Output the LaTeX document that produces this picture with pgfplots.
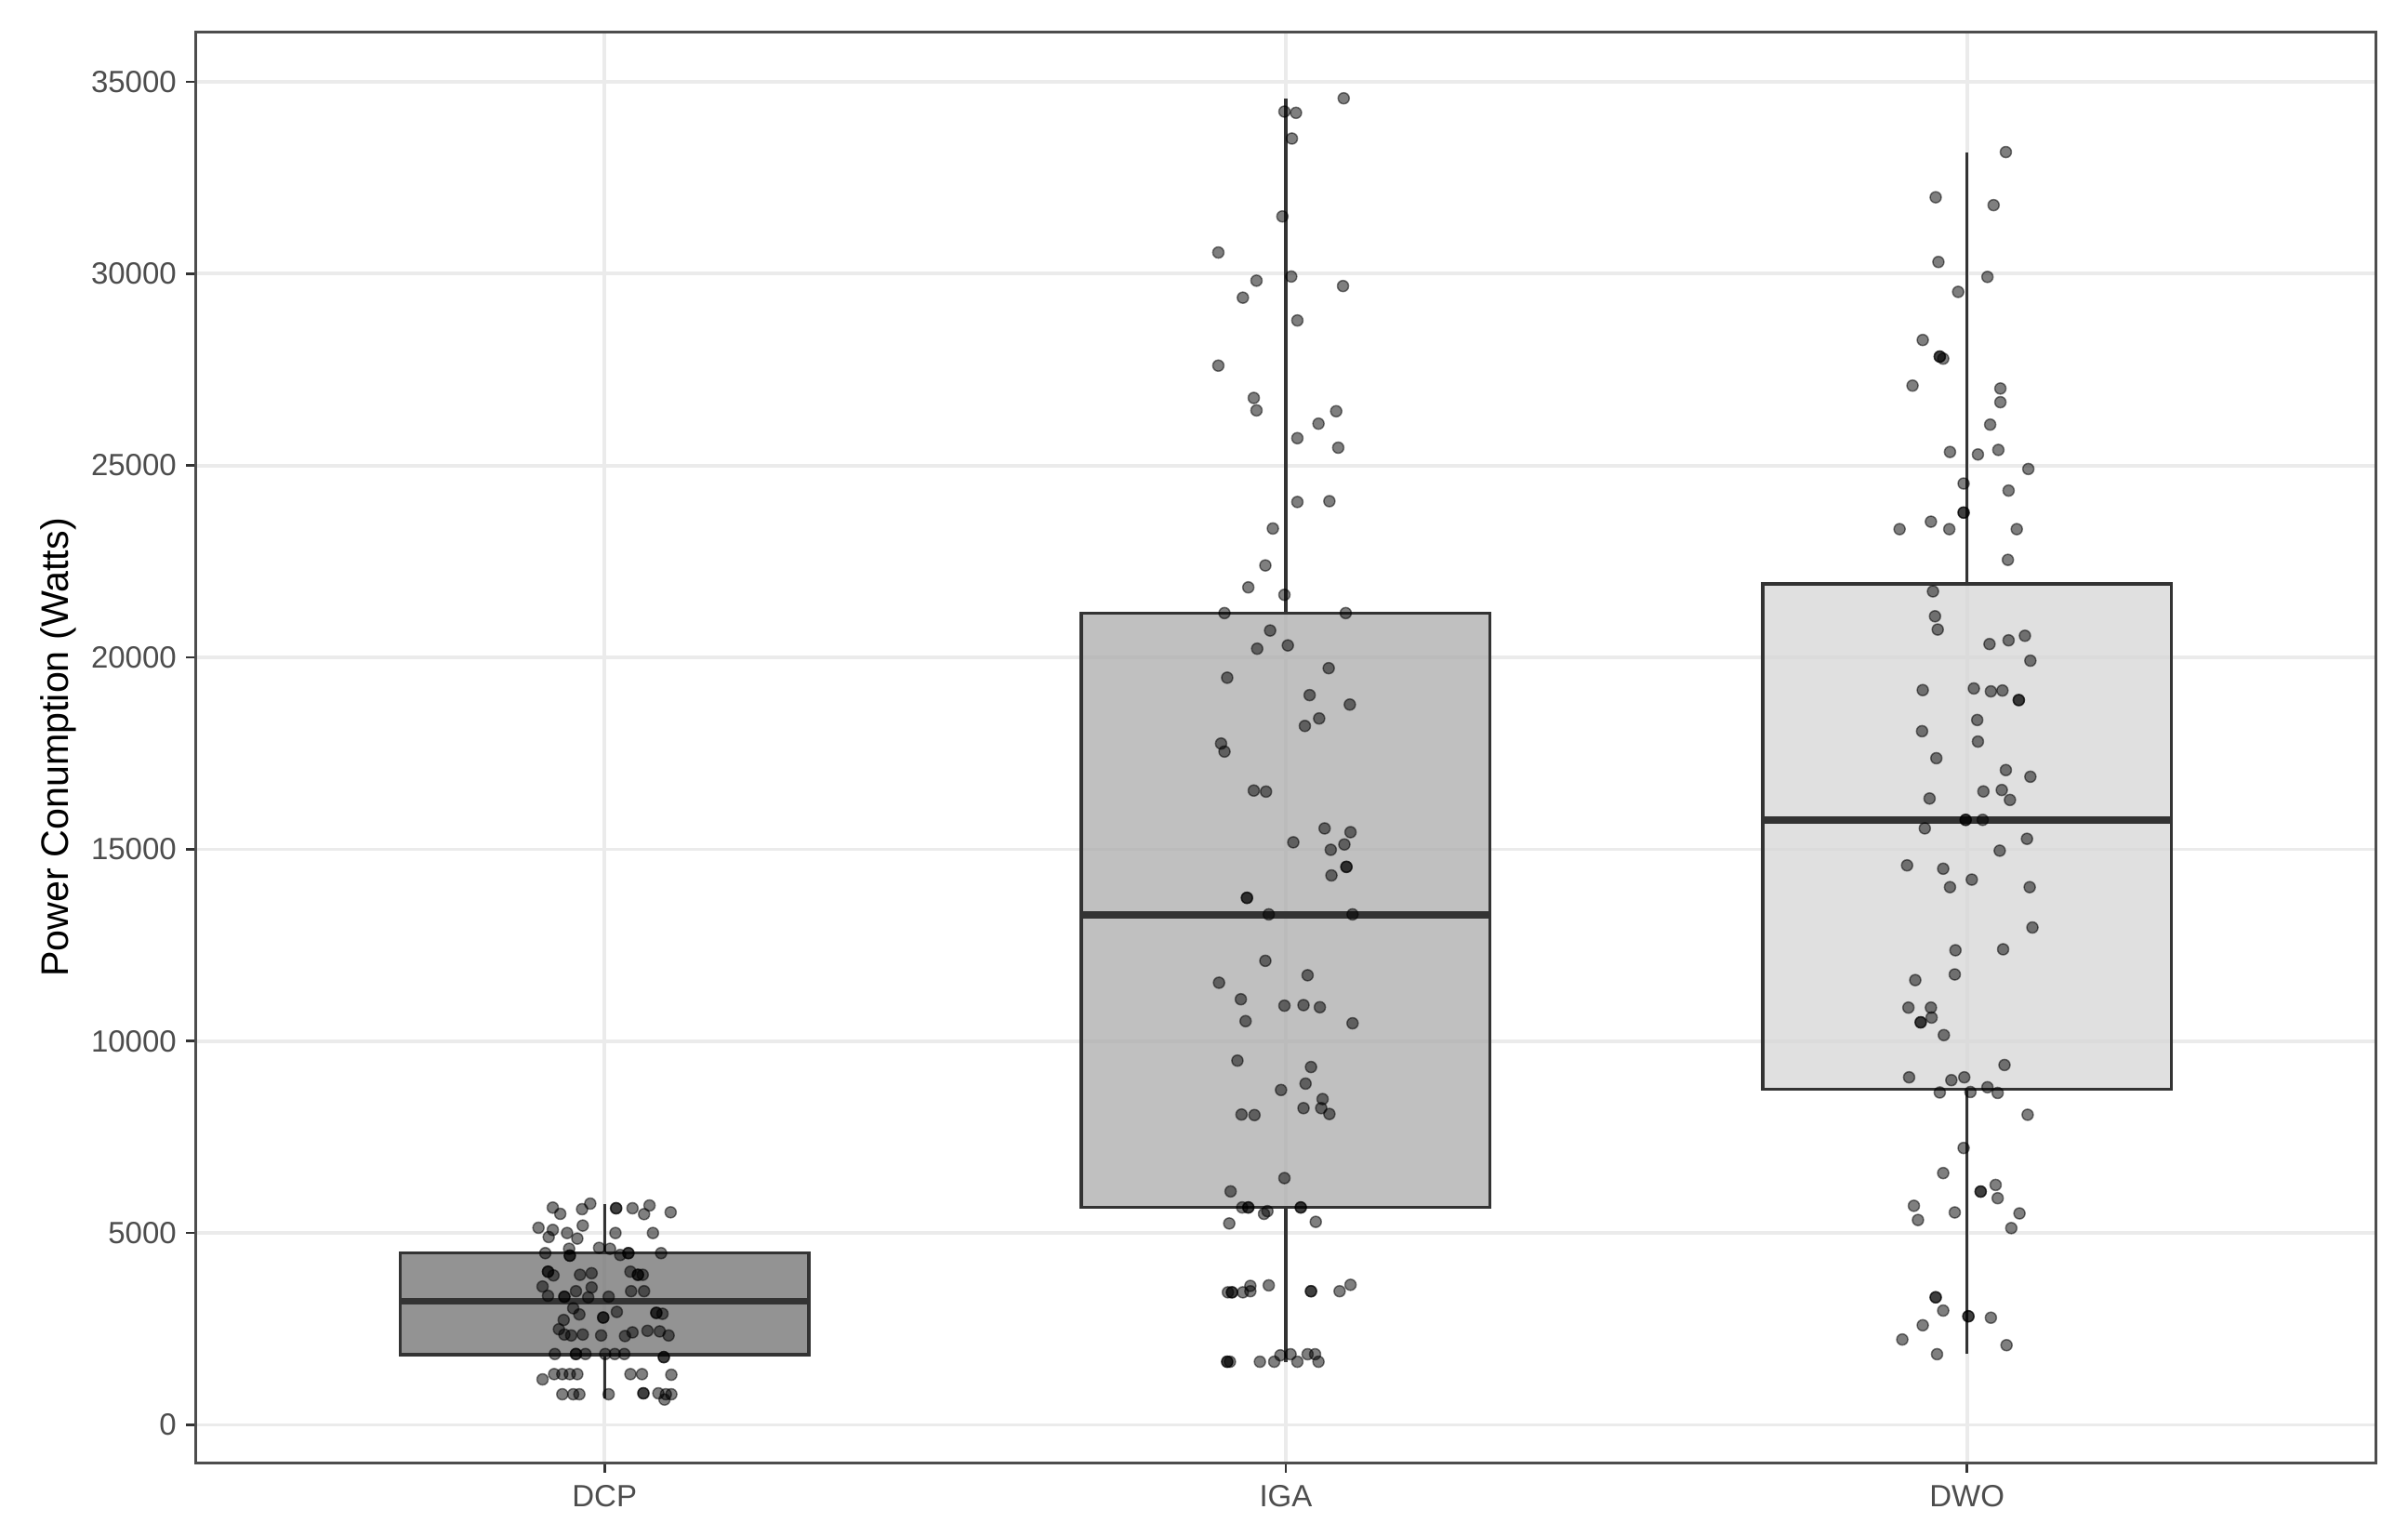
\documentclass[border=0pt]{standalone}
\usepackage{pgfplots}
\pgfplotsset{compat=1.18}
\usepackage{fontspec}
\setmainfont{Liberation Sans}
\definecolor{gridc}{HTML}{EBEBEB}
\definecolor{tickc}{HTML}{4D4D4D}
\definecolor{boxline}{HTML}{333333}
\definecolor{fillA}{HTML}{787878}
\definecolor{fillB}{HTML}{B0B0B0}
\definecolor{fillC}{HTML}{D8D8D8}

\pgfplotstableread{
x y
0.924 5662
0.935 5500
0.967 5621
0.979 5766
1.017 5645
1.017 5645
1.041 5645
1.058 5492
1.066 5718
1.097 5540
0.903 5137
0.924 5081
0.918 4895
0.945 5000
0.968 5194
0.960 4855
1.016 5000
1.071 5000
0.913 4476
0.948 4589
0.949 4411
0.949 4411
0.992 4613
1.008 4589
1.023 4428
1.035 4476
1.035 4476
1.083 4476
0.917 3992
0.917 3992
0.925 3895
0.964 3911
0.981 3952
1.038 3992
1.049 3911
1.049 3911
1.056 3911
0.909 3605
0.917 3363
0.941 3339
0.941 3339
0.958 3484
0.981 3581
0.976 3323
1.006 3339
1.039 3484
1.058 3484
0.954 3040
0.963 2879
0.940 2734
0.998 2798
0.998 2798
1.018 2944
1.076 2919
1.076 2919
1.085 2895
0.933 2492
0.941 2355
0.951 2331
0.968 2355
0.995 2331
1.030 2315
1.041 2411
1.063 2452
1.081 2436
1.094 2331
0.927 1847
0.958 1847
0.958 1847
0.972 1847
1.001 1847
1.015 1847
1.029 1847
1.087 1766
1.087 1766
0.909 1186
0.926 1323
0.938 1323
0.949 1323
0.960 1323
1.038 1323
1.055 1323
1.098 1307
0.938 798
0.954 798
0.963 798
1.006 798
1.057 823
1.057 823
1.079 823
1.090 798
1.098 798
1.088 661
}\dcp

\pgfplotstableread{
x y
2.085 34568
1.998 34222
2.015 34190
2.009 33520
1.995 31490
1.901 30550
2.008 29924
1.957 29816
2.084 29676
1.937 29373
2.017 28779
1.901 27602
1.953 26760
1.957 26436
2.074 26414
2.048 26090
2.017 25712
2.077 25464
2.017 24049
2.064 24070
1.981 23358
1.970 22396
1.945 21824
1.998 21630
1.910 21154
2.088 21154
1.977 20700
1.958 20226
2.003 20312
1.914 19470
2.063 19718
2.035 19016
2.094 18770
2.049 18408
2.028 18213
1.905 17754
1.910 17546
1.953 16530
1.971 16502
2.057 15543
2.095 15445
2.011 15181
2.086 15125
2.066 14986
2.089 14541
2.089 14541
2.067 14318
1.943 13734
1.943 13734
1.975 13303
2.098 13303
1.970 12093
2.032 11717
1.902 11522
1.934 11091
1.998 10924
2.026 10938
2.050 10883
1.941 10521
2.098 10465
1.929 9492
2.037 9325
2.029 8893
1.993 8727
2.054 8490
2.026 8254
2.052 8254
2.064 8101
1.935 8087
1.954 8073
1.998 6431
1.919 6084
1.945 5666
1.945 5666
1.936 5666
2.022 5666
2.022 5666
1.968 5499
1.973 5569
1.917 5249
2.044 5291
1.921 3455
1.921 3455
1.915 3455
1.937 3455
1.948 3622
1.948 3483
1.975 3636
2.037 3483
2.037 3483
2.079 3483
2.095 3650
1.914 1646
1.914 1646
1.918 1646
1.962 1646
1.983 1646
1.992 1813
2.007 1841
2.017 1646
2.032 1841
2.043 1841
2.048 1646
}\iga

\pgfplotstableread{
x y
3.057 33167
2.954 31989
3.039 31784
2.958 30303
3.030 29914
2.987 29524
2.935 28270
2.960 27838
2.960 27838
2.965 27784
2.920 27081
3.049 27006
3.049 26649
3.034 26065
2.975 25352
3.016 25287
3.046 25406
3.090 24909
2.995 24530
3.061 24346
2.995 23773
2.995 23773
2.947 23536
2.901 23341
2.974 23341
3.073 23341
3.060 22541
2.950 21720
2.953 21071
2.957 20725
3.033 20347
3.061 20444
3.085 20563
3.093 19914
2.935 19147
3.010 19190
3.035 19114
3.052 19136
3.076 18887
3.076 18887
3.015 18368
2.934 18076
3.016 17806
2.955 17372
3.057 17063
3.093 16890
3.024 16507
3.051 16544
3.063 16285
2.945 16322
2.998 15766
2.998 15766
3.023 15766
2.938 15544
3.088 15272
3.048 14963
2.912 14580
2.965 14493
3.007 14209
2.975 14012
3.092 14012
3.096 12961
2.983 12368
3.053 12393
2.924 11590
2.982 11738
2.914 10873
2.947 10873
2.932 10490
2.932 10490
2.948 10614
2.966 10157
3.055 9378
2.915 9057
2.977 8983
2.996 9057
3.030 8798
2.960 8662
3.005 8674
3.045 8650
3.089 8081
2.995 7216
2.965 6562
3.020 6080
3.020 6080
3.042 6253
3.045 5907
2.922 5709
2.928 5339
2.982 5536
3.077 5511
3.065 5128
2.954 3325
2.954 3325
2.965 2979
3.002 2830
3.002 2830
3.035 2793
2.935 2596
2.905 2225
3.058 2077
2.956 1842
}\dwo

\begin{document}
\begin{tikzpicture}
\path[use as bounding box] (-56.17pt,-20.9pt) rectangle (634.55pt,419.6pt);
\begin{axis}[
  name=ax,
  at={(0,0)}, anchor=south west,
  scale only axis,
  width=625.3pt, height=410.35pt,
  xmin=0.4, xmax=3.6,
  ymin=-990, ymax=36290,
  xtick={1,2,3},
  xticklabels={DCP,IGA,DWO},
  ytick={0,5000,10000,15000,20000,25000,30000,35000},
  minor tick num=0,
  scaled y ticks=false,
  yticklabel style={/pgf/number format/1000 sep={}, /pgf/number format/assume math mode=true},
  tick pos=left,
  tick align=outside,
  major tick length=2.75pt,
  tick style={draw=boxline, line width=0.7pt},
  axis line style={draw=tickc, line width=0.7pt},
  grid=major,
  major grid style={draw=gridc, line width=1pt},
  ticklabel style={font=\fontsize{8.8}{10}\selectfont, text=tickc},
  yticklabel style={anchor=east, inner sep=0pt, xshift=-2.6pt},
  xticklabel style={anchor=north, inner sep=0pt, yshift=-3.6pt},
  clip=false,
]
% boxes
\addplot[draw=boxline, line width=0.9pt, fill=fillA, fill opacity=0.8, mark=none]
  coordinates {(0.7,1831) (1.3,1831) (1.3,4476) (0.7,4476)} -- cycle;
\addplot[draw=boxline, line width=0.9pt, fill=fillB, fill opacity=0.8, mark=none]
  coordinates {(1.7,5666) (2.3,5666) (2.3,21154) (1.7,21154)} -- cycle;
\addplot[draw=boxline, line width=0.9pt, fill=fillC, fill opacity=0.8, mark=none]
  coordinates {(2.7,8750) (3.3,8750) (3.3,21910) (2.7,21910)} -- cycle;
% whiskers
\addplot[draw=boxline, line width=0.9pt, mark=none] coordinates {(1,4476) (1,5760)};
\addplot[draw=boxline, line width=0.9pt, mark=none] coordinates {(1,680) (1,1831)};
\addplot[draw=boxline, line width=0.9pt, mark=none] coordinates {(2,21154) (2,34568)};
\addplot[draw=boxline, line width=0.9pt, mark=none] coordinates {(2,1646) (2,5666)};
\addplot[draw=boxline, line width=0.9pt, mark=none] coordinates {(3,21910) (3,33167)};
\addplot[draw=boxline, line width=0.9pt, mark=none] coordinates {(3,1842) (3,8750)};
% medians
\addplot[draw=boxline, line width=1.9pt, mark=none] coordinates {(0.7,3218) (1.3,3218)};
\addplot[draw=boxline, line width=1.9pt, mark=none] coordinates {(1.7,13290) (2.3,13290)};
\addplot[draw=boxline, line width=1.9pt, mark=none] coordinates {(2.7,15760) (3.3,15760)};
% jittered points
\addplot[only marks, mark=*, mark size=1.6pt,
   mark options={fill=black, draw=black, fill opacity=0.5, draw opacity=0.5, line width=0.4pt}]
   table[x=x, y=y] {\dcp};
\addplot[only marks, mark=*, mark size=1.6pt,
   mark options={fill=black, draw=black, fill opacity=0.5, draw opacity=0.5, line width=0.4pt}]
   table[x=x, y=y] {\iga};
\addplot[only marks, mark=*, mark size=1.6pt,
   mark options={fill=black, draw=black, fill opacity=0.5, draw opacity=0.5, line width=0.4pt}]
   table[x=x, y=y] {\dwo};
\end{axis}
\node[rotate=90, anchor=center, font=\fontsize{11}{13}\selectfont, text=black]
  at ([xshift=-39.3pt]ax.west) {Power Conumption (Watts)};
\end{tikzpicture}
\end{document}
